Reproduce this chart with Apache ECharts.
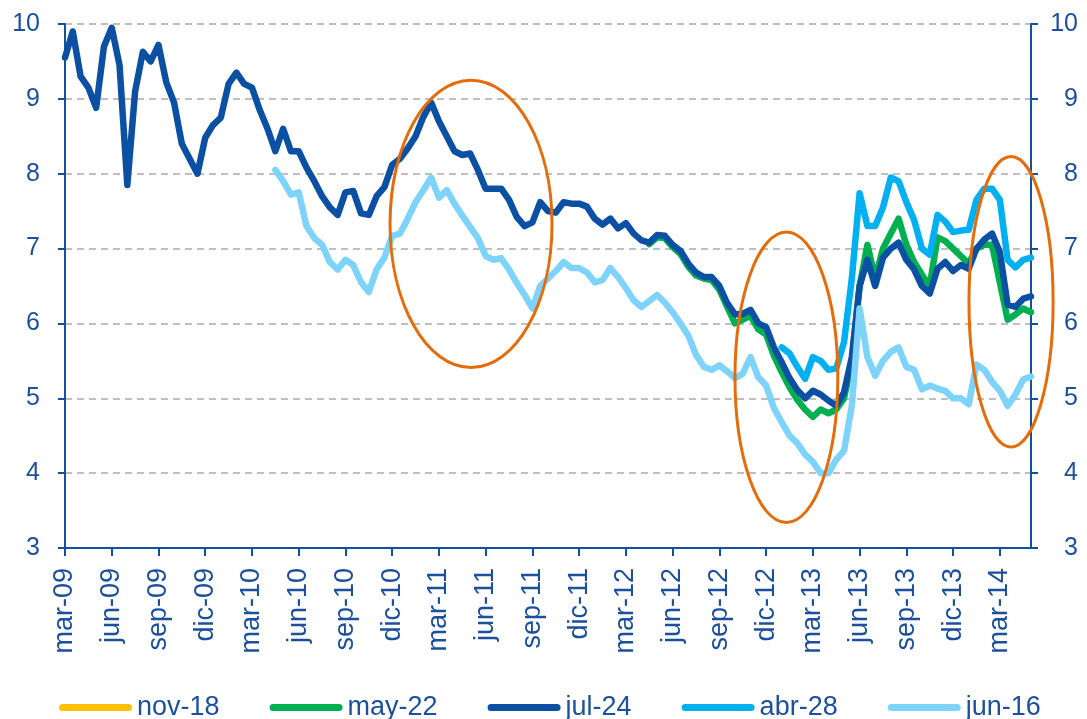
<!DOCTYPE html>
<html>
<head>
<meta charset="UTF-8">
<title></title>
<style type="text/css">
	* { margin: 0; padding: 0; }
	#chart { width: 1087px; height: 719px; background: #fff; }
</style>
</head>
<body>
<div id="chart"></div>
<script src="https://cdn.jsdelivr.net/npm/echarts@6.0.0/dist/echarts.min.js"></script>
<script type="text/javascript">
	// x = months since mar-09, one reading every half month
	var STEP = 0.5;
	var tickLabels = ['mar-09', 'jun-09', 'sep-09', 'dic-09', 'mar-10', 'jun-10', 'sep-10', 'dic-10',
		'mar-11', 'jun-11', 'sep-11', 'dic-11', 'mar-12', 'jun-12', 'sep-12', 'dic-12',
		'mar-13', 'jun-13', 'sep-13', 'dic-13', 'mar-14'];

	var names = ['nov-18', 'may-22', 'jul-24', 'abr-28', 'jun-16'];

	var nov18Start = 0;
	var nov18 = [];

	var jul24Start = 0;
	var jul24 = [9.55, 9.9, 9.3, 9.15, 8.88, 9.7, 9.95, 9.45, 7.85, 9.1,
		9.63, 9.5, 9.72, 9.22, 8.95, 8.4, 8.2, 8.0, 8.48, 8.65,
		8.75, 9.2, 9.35, 9.2, 9.15, 8.85, 8.6, 8.3, 8.6, 8.3,
		8.3, 8.08, 7.9, 7.7, 7.55, 7.45, 7.75, 7.77, 7.47, 7.45,
		7.7, 7.82, 8.12, 8.2, 8.34, 8.5, 8.76, 8.95, 8.7, 8.5,
		8.3, 8.25, 8.27, 8.05, 7.8, 7.8, 7.8, 7.65, 7.42, 7.3,
		7.35, 7.62, 7.5, 7.48, 7.62, 7.6, 7.6, 7.56, 7.4, 7.32,
		7.4, 7.27, 7.34, 7.2, 7.11, 7.08, 7.18, 7.17, 7.05, 6.97,
		6.8, 6.68, 6.62, 6.62, 6.5, 6.27, 6.12, 6.13, 6.18, 6.0,
		5.95, 5.68, 5.48, 5.27, 5.11, 5.0, 5.1, 5.05, 4.97, 4.9,
		5.08, 5.55, 6.5, 6.85, 6.5, 6.88, 7.0, 7.08, 6.85, 6.72,
		6.5, 6.4, 6.73, 6.82, 6.7, 6.78, 6.73, 7.0, 7.12, 7.2,
		6.95, 6.25, 6.22, 6.33, 6.36];

	var jun16Start = 27;
	var jun16 = [8.05, 7.9, 7.72, 7.75, 7.3, 7.14, 7.05, 6.82, 6.72, 6.85,
		6.78, 6.55, 6.42, 6.72, 6.88, 7.17, 7.2, 7.4, 7.62, 7.78,
		7.95, 7.68, 7.78, 7.6, 7.44, 7.29, 7.14, 6.9, 6.85, 6.87,
		6.72, 6.54, 6.38, 6.2, 6.5, 6.6, 6.7, 6.82, 6.74, 6.74,
		6.68, 6.55, 6.58, 6.74, 6.62, 6.47, 6.31, 6.22, 6.3, 6.38,
		6.28, 6.15, 6.0, 5.84, 5.58, 5.42, 5.38, 5.44, 5.36, 5.27,
		5.33, 5.55, 5.28, 5.17, 4.87, 4.68, 4.5, 4.4, 4.25, 4.15,
		4.0, 4.0, 4.18, 4.3, 4.9, 6.2, 5.55, 5.3, 5.5, 5.62,
		5.68, 5.42, 5.38, 5.12, 5.17, 5.13, 5.1, 5.0, 5.0, 4.92,
		5.45, 5.38, 5.22, 5.1, 4.9, 5.05, 5.25, 5.29];

	var may22Start = 75;
	var may22 = [7.06, 7.15, 7.14, 7.02, 6.93, 6.76, 6.64, 6.6, 6.58, 6.45,
		6.22, 6.0, 6.05, 6.1, 5.92, 5.85, 5.57, 5.35, 5.15, 4.98,
		4.85, 4.75, 4.85, 4.8, 4.85, 5.0, 5.5, 6.5, 7.05, 6.6,
		7.0, 7.2, 7.4, 7.05, 6.82, 6.65, 6.5, 7.15, 7.1, 7.0,
		6.9, 6.8, 7.0, 7.05, 7.05, 6.55, 6.05, 6.12, 6.2, 6.15];

	var abr28Start = 92;
	var abr28 = [5.68, 5.6, 5.42, 5.26, 5.55, 5.5, 5.38, 5.4, 5.75, 6.6,
		7.74, 7.3, 7.3, 7.55, 7.95, 7.9, 7.62, 7.38, 7.0, 6.92,
		7.45, 7.36, 7.22, 7.24, 7.25, 7.65, 7.8, 7.8, 7.65, 6.85,
		6.75, 6.85, 6.88];

	// orange ellipses: centre [month, value], radius [months, value units]
	var ellipses = [
		{ c: [26.06, 7.33], r: [5.2, 1.92] },
		{ c: [46.3, 5.28], r: [3.3, 1.94] },
		{ c: [60.72, 6.29], r: [2.7, 1.94] }
	];

	var colors = ['#ffc000', '#00b050', '#0c50a4', '#00b0f0', '#7dd3fa'];
	var axisColor = '#1250a0';
	var textColor = '#1c4f9c';
	var font = "'Liberation Sans', Arial, sans-serif";

	function toPoints(start, values) {
		return values.map(function(v, i) {
			return [(start + i) * STEP, v];
		});
	}

	function lineSeries(name, idx, data) {
		return {
			name: name,
			type: 'line',
			data: data,
			color: colors[idx],
			showSymbol: false,
			symbol: 'none',
			smooth: false,
			lineStyle: { width: 6.5, color: colors[idx], cap: 'round', join: 'round' },
			emphasis: { disabled: true },
			animation: false
		};
	}

	function yAxis(pos) {
		return {
			type: 'value',
			position: pos,
			min: 3,
			max: 10,
			interval: 1,
			axisLine: { show: true, lineStyle: { color: axisColor, width: 2 } },
			axisTick: { show: true, length: 7, lineStyle: { color: axisColor, width: 2 } },
			axisLabel: {
				color: textColor,
				fontSize: 25,
				fontFamily: font,
				margin: pos === 'left' ? 25 : 47,
				align: 'right'
			},
			splitLine: {
				show: pos === 'left',
				lineStyle: { color: '#bfbfbf', width: 2, type: [7, 5] }
			}
		};
	}

	var myChart = echarts.init(document.getElementById('chart'));

	var option = {
		backgroundColor: '#fff',
		animation: false,
		grid: { left: 65, right: 56, top: 24, bottom: 171, containLabel: false },
		legend: {
			data: names,
			left: 54,
			top: 689,
			itemWidth: 73,
			itemHeight: 7,
			itemGap: 50,
			icon: 'path://M3.5,0 H69.5 A3.5,3.5 0 0 1 69.5,7 H3.5 A3.5,3.5 0 0 1 3.5,0 Z',
			textStyle: { color: textColor, fontSize: 27, fontFamily: font }
		},
		xAxis: {
			type: 'value',
			min: 0,
			max: 62,
			interval: 3,
			axisLine: { show: true, onZero: false, lineStyle: { color: axisColor, width: 2 } },
			axisTick: { show: true, length: 8, lineStyle: { color: axisColor, width: 2 } },
			axisLabel: {
				rotate: 90,
				margin: 20,
				color: textColor,
				fontSize: 27,
				fontFamily: font,
				showMaxLabel: false,
				formatter: function(v) {
					var i = Math.round(v / 3);
					return (v % 3 === 0 && tickLabels[i]) ? tickLabels[i] : '';
				}
			},
			splitLine: { show: false }
		},
		yAxis: [yAxis('left'), yAxis('right')],
		series: [
			lineSeries(names[0], 0, toPoints(nov18Start, nov18)),
			lineSeries(names[1], 1, toPoints(may22Start, may22)),
			lineSeries(names[2], 2, toPoints(jul24Start, jul24)),
			lineSeries(names[3], 3, toPoints(abr28Start, abr28)),
			lineSeries(names[4], 4, toPoints(jun16Start, jun16))
		]
	};

	myChart.setOption(option);

	// ellipses placed through the axes
	var finder = { xAxisIndex: 0, yAxisIndex: 0 };
	var shapes = ellipses.map(function(e) {
		var c = myChart.convertToPixel(finder, e.c);
		var p = myChart.convertToPixel(finder, [e.c[0] + e.r[0], e.c[1] + e.r[1]]);
		return {
			type: 'ellipse',
			z: 100,
			silent: true,
			shape: { cx: c[0], cy: c[1], rx: Math.abs(p[0] - c[0]), ry: Math.abs(c[1] - p[1]) },
			style: { fill: 'none', stroke: '#e46c0a', lineWidth: 3 }
		};
	});
	myChart.setOption({ graphic: shapes });
</script>
</body>
</html>
